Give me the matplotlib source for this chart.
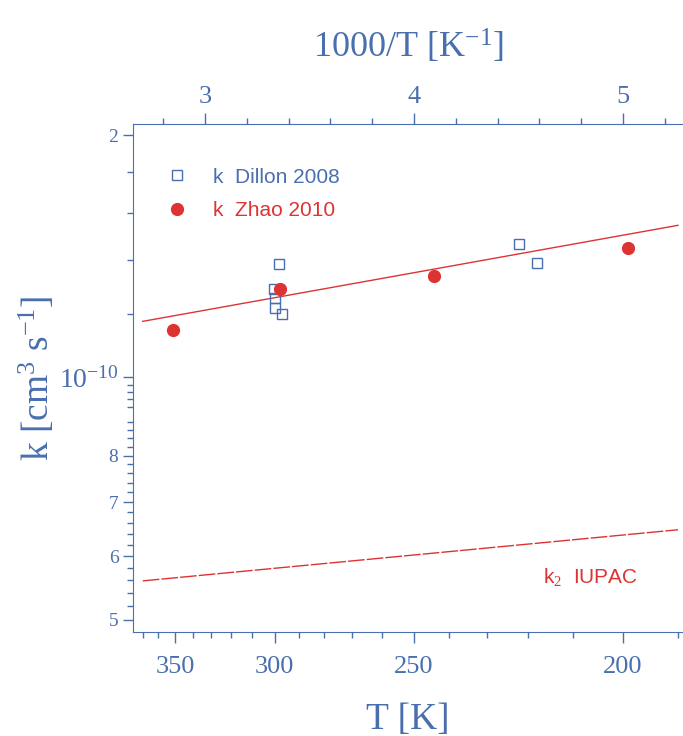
import numpy as np
import matplotlib
matplotlib.use("Agg")
import matplotlib.pyplot as plt
from matplotlib.ticker import FixedLocator, NullFormatter

# data
dillon_T = [297.9, 300.1, 300.0, 300.0, 296.9, 222.0, 218.0]
dillon_k = [1.385e-10, 1.289e-10, 1.254e-10, 1.218e-10, 1.198e-10, 1.466e-10, 1.387e-10]

zhao_T = [351.0, 297.7, 244.1, 199.0]
zhao_k = [1.144e-10, 1.287e-10, 1.336e-10, 1.446e-10]

# fitted lines (end points)
fit_T = [370, 190]
fit_k = [1.174e-10, 1.545e-10]
iupac_T = [370, 190]
iupac_k = [5.59e-11, 6.47e-11]

T_major = [350, 300, 250, 200]
T_minor = [370, 360, 340, 330, 320, 310, 290, 280, 270, 260, 240, 230, 220, 210, 190]
inv_major = [3, 4, 5]
inv_minor = [2.8, 3.2, 3.4, 3.6, 3.8, 4.2, 4.4, 4.6, 4.8, 5.2]

y_major = [5e-11, 6e-11, 7e-11, 8e-11, 1e-10, 2e-10]
y_labels = ["5", "6", "7", "8", "$10^{-10}$", "2"]

blue = "#4a6fae"
red = "#dd3333"
serif = ["Liberation Serif", "DejaVu Serif"]
sans = ["Liberation Sans", "DejaVu Sans"]

plt.rcParams["mathtext.fontset"] = "custom"
plt.rcParams["mathtext.rm"] = "Liberation Serif"
plt.rcParams["mathtext.it"] = "Liberation Serif:italic"

fig = plt.figure(figsize=(6.83, 7.36), dpi=100)
ax = fig.add_axes([0.1947, 0.1413, 0.8053, 0.6902])

inv = lambda T: 1000.0 / np.asarray(T, dtype=float)

ax.plot(inv(fit_T), fit_k, color=red, lw=1.0)
ax.plot(inv(iupac_T), iupac_k, color=red, lw=1.0, dashes=(12, 1.5))
ax.plot(inv(dillon_T), dillon_k, ls="none", marker="s", ms=7, mfc="none",
        mec=blue, mew=1.0, label="k  Dillon 2008")
ax.plot(inv(zhao_T), zhao_k, ls="none", marker="o", ms=8.5, color=red,
        label="k  Zhao 2010")

ax.set_yscale("log")
ax.set_xlim(2.656, 5.287)
ax.set_ylim(4.83e-11, 2.064e-10)

# y axis
ax.yaxis.set_major_locator(FixedLocator(y_major))
ax.set_yticklabels(y_labels)
ymin = [1.2e-10, 1.4e-10, 1.6e-10, 1.8e-10] + [x * 1e-12 for x in range(50, 100, 2) if x % 10 != 0]
ax.yaxis.set_minor_locator(FixedLocator(ymin))
ax.yaxis.set_minor_formatter(NullFormatter())
for lab in ax.get_yticklabels():
    lab.set_family(serif)
    lab.set_fontsize(20 if "10" in lab.get_text() else 14)

# bottom axis: T
ax.set_xticks(inv(T_major))
ax.set_xticklabels([str(t) for t in T_major], family=serif, fontsize=19)
ax.set_xticks(inv(T_minor), minor=True)

ax.tick_params(which="both", direction="out", colors=blue, labelcolor=blue)
ax.tick_params(which="major", length=8, width=1)
ax.tick_params(which="minor", length=4.5, width=1)
ax.tick_params(axis="y", which="major", length=7)
ax.tick_params(axis="x", which="major", pad=9)

for s in ["left", "bottom", "top"]:
    ax.spines[s].set_color(blue)
ax.spines["right"].set_visible(False)

ax.set_xlabel("T [K]", family=serif, fontsize=27, color=blue, labelpad=18)
ax.set_ylabel("k [cm$^3$ s$^{-1}$]", family=serif, fontsize=27, color=blue, labelpad=1)

# top axis: 1000/T
ax2 = ax.twiny()
ax2.set_xlim(ax.get_xlim())
ax2.set_xticks(inv_major)
ax2.set_xticklabels([str(v) for v in inv_major], family=serif, fontsize=19)
ax2.set_xticks(inv_minor, minor=True)
ax2.tick_params(which="both", direction="out", colors=blue, labelcolor=blue)
ax2.tick_params(which="major", length=8, width=1)
ax2.tick_params(which="minor", length=4.5, width=1)
for s in ax2.spines.values():
    s.set_visible(False)
ax2.set_xlabel("1000/T [K$^{-1}$]", family=serif, fontsize=26, color=blue, labelpad=20)

ax.text(0.745, 0.108, "k$_2$  IUPAC", transform=ax.transAxes, color=red,
        fontsize=15, family=sans, ha="left", va="center")

leg = ax.legend(loc="upper left", bbox_to_anchor=(0.027, 0.951), frameon=False,
                handletextpad=1.23, handlelength=1.0, labelspacing=0.7,
                prop={"family": sans, "size": 15}, labelcolor=[blue, red])

fig.savefig("out.png", dpi=100)
